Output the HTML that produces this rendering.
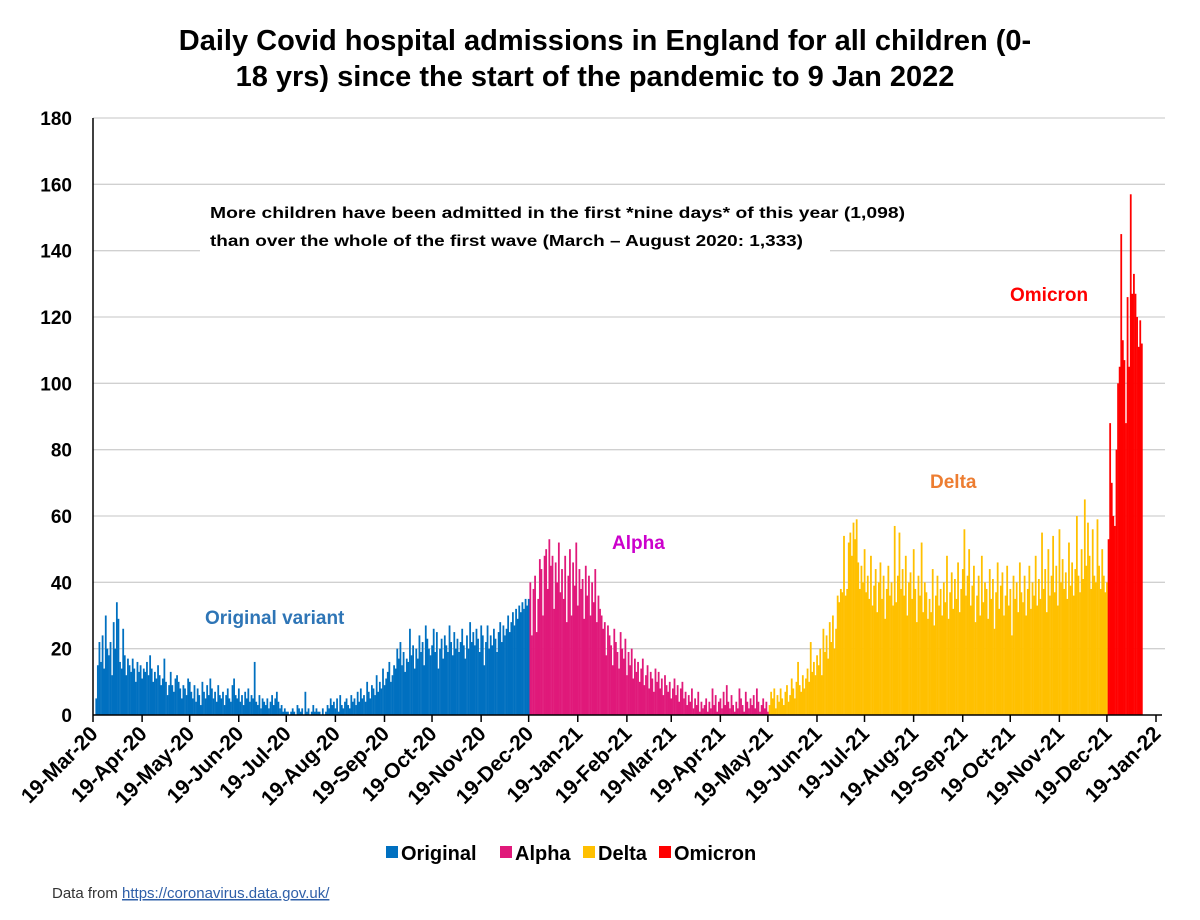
<!DOCTYPE html>
<html><head><meta charset="utf-8"><style>
body{margin:0;background:#fff;}
svg text{font-family:"Liberation Sans",Arial,sans-serif;}
</style></head><body>
<svg id="chart" width="1200" height="915" viewBox="0 0 1200 915" xmlns="http://www.w3.org/2000/svg">
<rect width="1200" height="915" fill="#fff"/>
<text x="605" y="50" text-anchor="middle" font-size="29" font-weight="bold" fill="#000">Daily Covid hospital admissions in England for all children (0-</text>
<text x="595" y="86" text-anchor="middle" font-size="29" font-weight="bold" fill="#000">18 yrs) since the start of the pandemic to 9 Jan 2022</text>
<g id="grid"></g>
<g id="bars"></g>
<g id="axes"></g>
<rect x="200" y="195" width="630" height="62" fill="#fff"/>
<text x="210" y="218" font-size="16" font-weight="bold" fill="#000" textLength="695" lengthAdjust="spacingAndGlyphs">More children have been admitted in the first *nine days* of this year (1,098)</text>
<text x="210" y="246" font-size="16" font-weight="bold" fill="#000" textLength="593" lengthAdjust="spacingAndGlyphs">than over the whole of the first wave (March – August 2020: 1,333)</text>
<text x="205" y="624" font-size="19" font-weight="bold" fill="#2e75b6">Original variant</text>
<text x="612" y="549" font-size="19" font-weight="bold" fill="#cc00cc">Alpha</text>
<text x="930" y="488" font-size="19" font-weight="bold" fill="#ed7d31">Delta</text>
<text x="1010" y="301" font-size="19" font-weight="bold" fill="#ff0000">Omicron</text>
<g>
<rect x="386" y="846" width="12" height="12" fill="#0070c0"/><text x="401" y="860" font-size="20" font-weight="bold">Original</text>
<rect x="500" y="846" width="12" height="12" fill="#e0197a"/><text x="515" y="860" font-size="20" font-weight="bold">Alpha</text>
<rect x="583" y="846" width="12" height="12" fill="#ffc000"/><text x="598" y="860" font-size="20" font-weight="bold">Delta</text>
<rect x="659" y="846" width="12" height="12" fill="#ff0000"/><text x="674" y="860" font-size="20" font-weight="bold">Omicron</text>
</g>
<text x="52" y="898" font-size="15" fill="#333">Data from <tspan fill="#2e5fa8" text-decoration="underline">https://coronavirus.data.gov.uk/</tspan></text>
</svg>
<script>
const originalValues=[0,5,15,22,16,24,14,30,20,18,22,12,28,20,34,29,16,14,26,18,12,17,15,13,17,14,10,16,13,15,11,14,13,16,12,18,14,10,13,11,15,12,9,11,17,10,6,9,13,9,7,11,12,10,8,5,9,8,6,11,10,7,5,9,4,8,6,3,10,7,5,9,6,11,8,5,7,4,9,6,5,7,3,6,8,5,4,9,11,6,5,8,4,6,3,7,5,8,4,6,5,16,4,3,6,2,5,4,3,5,2,4,6,3,5,7,4,2,3,1,2,1,1,0,1,2,1,0,3,2,1,2,0,7,1,2,0,1,3,1,2,1,1,0,2,0,1,3,2,5,3,4,2,5,1,6,3,2,4,5,3,2,6,4,5,3,7,4,8,5,6,4,10,7,5,9,8,6,12,7,10,8,14,9,11,13,16,10,12,15,14,20,17,22,15,19,13,17,16,26,18,21,14,20,17,24,19,22,15,27,23,20,18,21,26,19,25,14,20,23,17,24,21,19,27,22,18,25,20,23,19,22,26,21,17,24,20,28,22,25,21,26,23,19,27,24,15,22,27,20,24,21,26,23,19,25,28,22,27,24,26,30,25,28,31,27,32,29,33,31,34,32,35,33,35];
const alphaValues=[40,24,38,42,25,35,47,44,30,48,50,38,53,45,48,32,46,40,52,37,44,35,48,28,42,50,30,46,39,52,33,44,38,41,29,45,36,42,30,40,34,44,28,36,32,30,26,28,18,27,24,21,15,26,22,19,14,25,20,17,23,12,19,15,20,11,17,13,16,10,14,17,9,12,15,8,13,11,7,14,10,13,8,11,6,12,9,7,10,5,8,11,6,9,4,8,10,5,7,3,6,4,8,2,5,3,7,1,4,2,3,5,1,4,2,8,3,6,1,4,5,2,7,3,9,4,2,6,3,1,4,2,8,5,3,1,7,4,2,5,3,6,2,8,4,1,3,5,2,4,1];
const deltaValues=[3,7,5,8,2,6,4,8,5,3,7,9,4,6,11,8,5,10,16,9,7,12,8,11,14,10,22,13,16,12,18,15,20,12,26,19,24,17,28,22,30,20,26,36,34,38,37,54,36,38,52,55,48,58,53,59,46,38,45,40,50,37,42,35,48,33,39,44,31,40,46,35,42,29,38,45,36,40,33,57,34,42,55,38,44,36,48,30,40,43,35,50,38,28,42,36,52,31,40,37,29,35,31,44,27,36,42,33,38,30,40,34,48,29,37,43,32,41,35,46,31,38,44,56,36,42,50,33,39,45,28,36,42,30,48,34,40,38,29,44,35,41,26,37,46,32,39,43,30,36,45,33,38,24,42,35,40,31,46,37,34,42,30,38,45,32,40,36,48,33,41,35,55,38,44,31,50,36,42,54,37,45,33,56,40,47,38,43,35,52,39,46,36,44,60,42,37,50,41,65,45,58,48,38,56,42,40,59,45,38,50,42,37,40];
const omicronValues=[53,88,70,60,57,80,100,105,145,113,107,88,126,105,157,127,133,127,120,111,119,112];
const yTicks=[0,20,40,60,80,100,120,140,160,180];
const monthLabels=["19-Mar-20","19-Apr-20","19-May-20","19-Jun-20","19-Jul-20","19-Aug-20","19-Sep-20","19-Oct-20","19-Nov-20","19-Dec-20","19-Jan-21","19-Feb-21","19-Mar-21","19-Apr-21","19-May-21","19-Jun-21","19-Jul-21","19-Aug-21","19-Sep-21","19-Oct-21","19-Nov-21","19-Dec-21","19-Jan-22"];

const NS="http://www.w3.org/2000/svg";
const X0=93, DAYPX=1063/671, Y0=715, YPX=597/180;
const x=d=>X0+d*DAYPX, y=v=>Y0-v*YPX;
function mk(tag,attrs,parent){const e=document.createElementNS(NS,tag);for(const k in attrs)e.setAttribute(k,attrs[k]);parent.appendChild(e);return e;}
const grid=document.getElementById('grid'), bars=document.getElementById('bars'), axes=document.getElementById('axes');
yTicks.forEach(t=>{
  if(t>0){const l=mk('line',{x1:X0,x2:1165,y1:y(t),y2:y(t),stroke:'#d0d0d0','stroke-width':1.3},grid);
  
  }
  const tx=mk('text',{x:72,y:y(t)+7,'text-anchor':'end','font-size':19,'font-weight':'bold'},axes);
  tx.textContent=t;
  
  
});
const series=[[originalValues,'#0070c0','bar-original'],[alphaValues,'#e0197a','bar-alpha'],[deltaValues,'#ffc000','bar-delta'],[omicronValues,'#ff0000','bar-omicron']];
let day=1;
series.forEach(([vals,col,name])=>{
  vals.forEach(v=>{
    const r=mk('rect',{x:x(day)-0.8,y:y(v),width:DAYPX+0.2,height:Math.max(0,Y0-y(v)),fill:col},bars);
    
    
    day++;
  });
});
mk('line',{x1:X0,x2:X0,y1:118,y2:Y0,stroke:'#000','stroke-width':1.5},axes);
mk('line',{x1:X0,x2:1162,y1:Y0,y2:Y0,stroke:'#000','stroke-width':1.5},axes);
const start=new Date(Date.UTC(2020,2,19));
monthLabels.forEach((lab,i)=>{
  const dt=new Date(Date.UTC(2020,2+i,19));
  const d=(dt-start)/86400000;
  const tl=mk('line',{x1:x(d),x2:x(d),y1:Y0,y2:Y0+7,stroke:'#000','stroke-width':1.5},axes);
  
  
  const tx=mk('text',{x:x(d)+6,y:Y0+20,'text-anchor':'end','font-size':21,'font-weight':'bold',transform:`rotate(-45 ${x(d)+6} ${Y0+20})`},axes);
  tx.textContent=lab;
  
  
});
</script>
</body></html>
